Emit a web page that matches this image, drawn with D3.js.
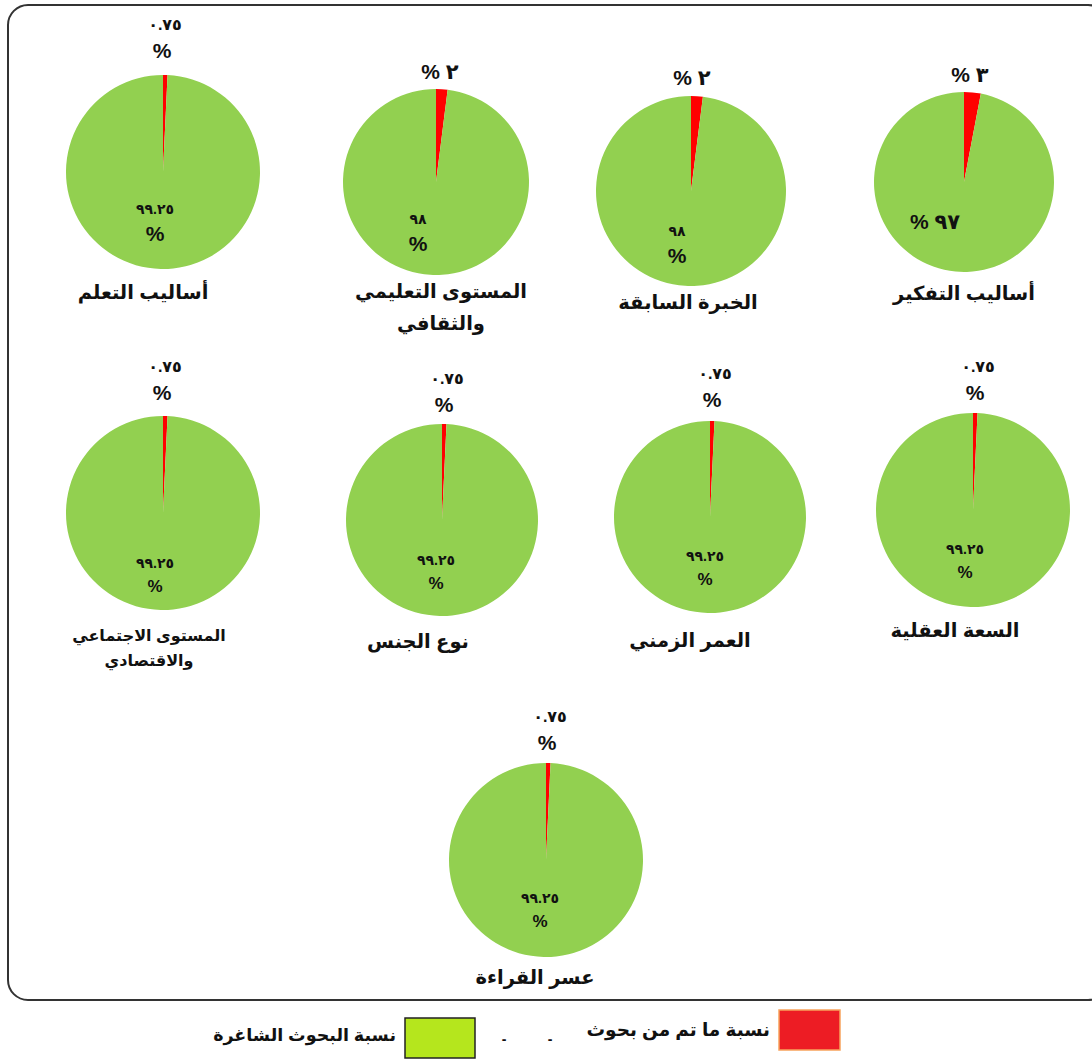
<!DOCTYPE html>
<html>
<head>
<meta charset="utf-8">
<script src="https://cdn.jsdelivr.net/npm/d3@7"></script>
<style>
  body { margin: 0; background: #fff; }
  svg text { font-family: Arial, "Liberation Sans", "DejaVu Sans", sans-serif; font-weight: bold; fill: #111; }
</style>
</head>
<body>
<div id="chart"></div>
<script>
// data
const titles = [
  ["أساليب التعلم"],
  ["المستوى التعليمي", "والثقافي"],
  ["الخبرة السابقة"],
  ["أساليب التفكير"],
  ["المستوى الاجتماعي", "والاقتصادي"],
  ["نوع الجنس"],
  ["العمر الزمني"],
  ["السعة العقلية"],
  ["عسر القراءة"]
];
const doneValues   = [0.75, 2, 2, 3, 0.75, 0.75, 0.75, 0.75, 0.75];
const vacantValues = [99.25, 98, 98, 97, 99.25, 99.25, 99.25, 99.25, 99.25];
const doneLabels   = [["٠.٧٥", "%"], ["% ٢"], ["% ٢"], ["% ٣"], ["٠.٧٥", "%"], ["٠.٧٥", "%"], ["٠.٧٥", "%"], ["٠.٧٥", "%"], ["٠.٧٥", "%"]];
const vacantLabels = [["٩٩.٢٥", "%"], ["٩٨", "%"], ["٩٨", "%"], ["% ٩٧"], ["٩٩.٢٥", "%"], ["٩٩.٢٥", "%"], ["٩٩.٢٥", "%"], ["٩٩.٢٥", "%"], ["٩٩.٢٥", "%"]];
const legendLabels = ["نسبة ما تم من بحوث", "نسبة البحوث الشاغرة"];

// layout: centre, radius, label anchors (top label y, inner label x/y, title x shift / y / size)
const layout = [
  {cx:163, cy:172, r:97, tx:165, ty:30,  gx:155, gy:214, hdx:-20, hy:299, fs:19.5},
  {cx:436, cy:182, r:93, tx:440, ty:79,  gx:418, gy:224, hdx:5,   hy:298, fs:19.5},
  {cx:691, cy:191, r:95, tx:692, ty:85,  gx:677, gy:236, hdx:-3,  hy:309, fs:19.5},
  {cx:964, cy:182, r:90, tx:970, ty:82,  gx:935, gy:229, hdx:0,   hy:300, fs:19.5},
  {cx:163, cy:513, r:97, tx:165, ty:372, gx:155, gy:568, hdx:-14, hy:641, fs:16},
  {cx:442, cy:520, r:96, tx:447, ty:384, gx:436, gy:565, hdx:-24, hy:648, fs:19.5},
  {cx:710, cy:517, r:96, tx:715, ty:379, gx:705, gy:561, hdx:-20, hy:647, fs:19.5},
  {cx:973, cy:510, r:97, tx:978, ty:372, gx:965, gy:554, hdx:-18, hy:637, fs:19.5},
  {cx:546, cy:860, r:97, tx:550, ty:722, gx:540, gy:903, hdx:-11, hy:984, fs:19.5}
];

const colors = {done: "#ff0000", vacant: "#92d050"};

const svg = d3.select("#chart").append("svg")
  .attr("width", 1092)
  .attr("height", 1061);

// outer frame
svg.append("rect")
  .attr("x", 8).attr("y", 5)
  .attr("width", 1100).attr("height", 995)
  .attr("rx", 20).attr("ry", 20)
  .attr("fill", "none")
  .attr("stroke", "#333")
  .attr("stroke-width", 2);

const pie = d3.pie().sort(null).value(d => d.value);

titles.forEach((title, i) => {
  const L = layout[i];
  const g = svg.append("g").attr("transform", "translate(" + L.cx + "," + L.cy + ")");
  const arc = d3.arc().innerRadius(0).outerRadius(L.r);
  const slices = pie([
    {key: "done", value: doneValues[i]},
    {key: "vacant", value: vacantValues[i]}
  ]);
  g.selectAll("path")
    .data(slices)
    .join("path")
    .attr("d", arc)
    .attr("fill", d => colors[d.data.key]);

  // red slice label (above the pie)
  const top = doneLabels[i];
  top.forEach((t, k) => {
    const single = top.length === 1;
    svg.append("text")
      .attr("x", L.tx - (k === 1 ? 3 : 0))
      .attr("y", L.ty + (k === 1 ? 28 : 0))
      .attr("text-anchor", "middle")
      .style("direction", "ltr")
      .style("unicode-bidi", "bidi-override")
      .style("font-size", (t === "%" || single) ? "21px" : "16px")
      .text(t);
  });

  // green slice label (inside the pie)
  const inner = vacantLabels[i];
  inner.forEach((t, k) => {
    svg.append("text")
      .attr("x", L.gx)
      .attr("y", L.gy + k * (i < 4 ? 27 : 24))
      .attr("text-anchor", "middle")
      .style("direction", "ltr")
      .style("unicode-bidi", "bidi-override")
      .style("font-size", (t === "%" || inner.length === 1) ? (i < 4 ? "21px" : "17px") : "14px")
      .text(t);
  });

  // category title
  title.forEach((t, k) => {
    svg.append("text")
      .attr("x", L.cx + L.hdx)
      .attr("y", L.hy + k * (L.fs < 18 ? 25 : 32))
      .attr("text-anchor", "middle")
      .style("font-size", L.fs + "px")
      .text(t);
  });
});

// legend
const legend = svg.append("g");
legend.append("rect")
  .attr("x", 779).attr("y", 1010).attr("width", 61).attr("height", 40)
  .attr("fill", "#ed1c24").attr("stroke", "#f7a35c").attr("stroke-width", 1.5);
legend.append("text")
  .attr("x", 770).attr("y", 1036)
  .attr("text-anchor", "end")
  .style("font-size", "18.5px")
  .text(legendLabels[0]);
legend.append("text").attr("x", 550).attr("y", 1044).attr("text-anchor", "middle").style("font-size", "14px").text("-");
legend.append("text").attr("x", 504).attr("y", 1044).attr("text-anchor", "middle").style("font-size", "14px").text("-");
legend.append("rect")
  .attr("x", 405).attr("y", 1018).attr("width", 70).attr("height", 40)
  .attr("fill", "#b5e61d").attr("stroke", "#222").attr("stroke-width", 1.5);
legend.append("text")
  .attr("x", 396).attr("y", 1041)
  .attr("text-anchor", "end")
  .style("font-size", "17.5px")
  .text(legendLabels[1]);
</script>
</body>
</html>
